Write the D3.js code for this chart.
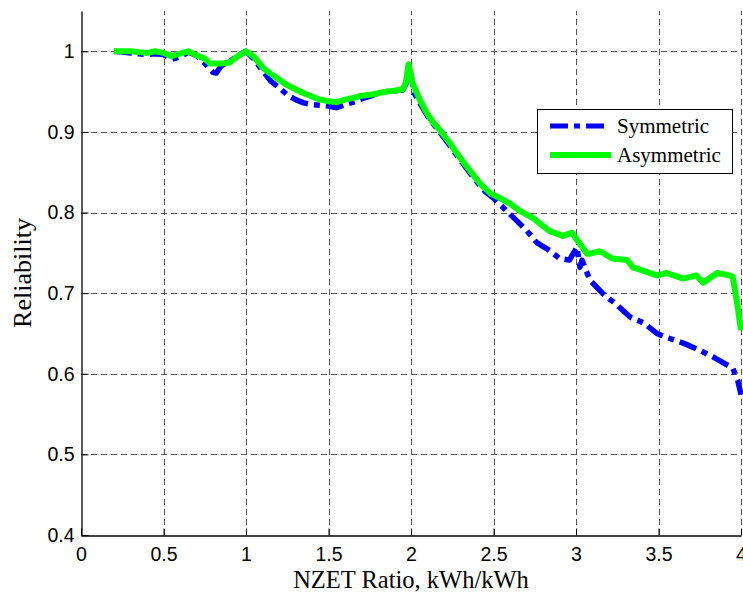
<!DOCTYPE html>
<html><head><meta charset="utf-8">
<script src="https://cdn.jsdelivr.net/npm/d3@7"></script>
<style>body{margin:0;background:#fff}svg{display:block}</style>
</head><body>
<svg id="chart" width="743" height="596"></svg>
<script>
const xTicks = [0, 0.5, 1, 1.5, 2, 2.5, 3, 3.5, 4];
const xTickLabels = ["0", "0.5", "1", "1.5", "2", "2.5", "3", "3.5", "4"];
const yTicks = [0.4, 0.5, 0.6, 0.7, 0.8, 0.9, 1];
const yTickLabels = ["0.4", "0.5", "0.6", "0.7", "0.8", "0.9", "1"];
const seriesNames = ["Symmetric", "Asymmetric"];

const symX = [0.20,0.25,0.30,0.35,0.40,0.45,0.50,0.55,0.60,0.65,0.70,0.75,0.80,0.82,0.85,0.90,0.95,1.00,1.05,1.10,1.15,1.20,1.25,1.30,1.35,1.40,1.45,1.50,1.55,1.60,1.65,1.70,1.75,1.80,1.85,1.90,1.95,1.97,1.985,2.00,2.02,2.05,2.10,2.15,2.20,2.25,2.30,2.35,2.40,2.45,2.50,2.55,2.62,2.70,2.76,2.84,2.90,2.96,3.006,3.024,3.036,3.085,3.16,3.25,3.33,3.41,3.49,3.55,3.65,3.75,3.83,3.915,3.95,3.98,4.00];
const symY = [1.000,0.999,0.998,0.997,0.996,0.997,0.996,0.990,0.993,0.999,0.995,0.985,0.974,0.973,0.982,0.987,0.995,1.000,0.990,0.976,0.963,0.955,0.946,0.940,0.936,0.934,0.933,0.932,0.930,0.934,0.937,0.941,0.944,0.948,0.950,0.951,0.952,0.960,0.982,0.970,0.948,0.937,0.920,0.906,0.893,0.879,0.865,0.851,0.838,0.826,0.818,0.808,0.794,0.778,0.763,0.753,0.743,0.741,0.757,0.732,0.741,0.716,0.700,0.685,0.670,0.663,0.650,0.645,0.638,0.629,0.621,0.611,0.607,0.592,0.574];

const asymX = [0.20,0.25,0.30,0.35,0.40,0.45,0.50,0.55,0.60,0.65,0.70,0.75,0.78,0.85,0.90,0.95,1.00,1.05,1.10,1.15,1.20,1.25,1.30,1.35,1.40,1.45,1.50,1.55,1.60,1.65,1.70,1.75,1.80,1.85,1.90,1.95,1.97,1.985,2.01,2.055,2.097,2.133,2.176,2.236,2.297,2.357,2.418,2.479,2.539,2.60,2.66,2.74,2.84,2.92,2.976,3.01,3.067,3.085,3.145,3.22,3.31,3.345,3.406,3.49,3.55,3.65,3.73,3.77,3.855,3.93,3.95,3.98,4.00];
const asymY = [1.000,1.000,1.000,0.999,0.998,1.000,0.998,0.994,0.997,1.000,0.995,0.991,0.985,0.985,0.986,0.994,1.000,0.993,0.980,0.972,0.965,0.958,0.953,0.948,0.944,0.940,0.938,0.937,0.940,0.942,0.945,0.946,0.948,0.950,0.951,0.953,0.962,0.984,0.960,0.939,0.923,0.912,0.902,0.886,0.868,0.852,0.836,0.824,0.818,0.811,0.802,0.793,0.777,0.771,0.775,0.765,0.749,0.749,0.752,0.743,0.741,0.732,0.728,0.722,0.725,0.718,0.722,0.713,0.725,0.722,0.720,0.683,0.654];

const svg = d3.select("#chart");
const L = 81, R = 741, T = 11, B = 535;
const x = d3.scaleLinear().domain([0, 4]).range([L, R]);
const y = d3.scaleLinear().domain([0.4, 1.05]).range([B, T]);

// grid
const grid = svg.append("g").attr("stroke", "#555").attr("stroke-width", 1).attr("stroke-dasharray", "6,4");
grid.selectAll(".vg").data(xTicks.slice(1)).join("line")
  .attr("x1", d => Math.round(x(d)) + 0.5).attr("x2", d => Math.round(x(d)) + 0.5)
  .attr("y1", B).attr("y2", T);
grid.selectAll(".hg").data(yTicks.slice(1)).join("line")
  .attr("y1", d => Math.round(y(d)) + 0.5).attr("y2", d => Math.round(y(d)) + 0.5)
  .attr("x1", L).attr("x2", R);

// axes
const xAxis = d3.axisBottom(x).tickValues(xTicks).tickFormat((d, i) => xTickLabels[i]).tickSizeInner(-7).tickSizeOuter(0).tickPadding(12);
const yAxis = d3.axisLeft(y).tickValues(yTicks).tickFormat((d, i) => yTickLabels[i]).tickSizeInner(-7).tickSizeOuter(0).tickPadding(7);
const gx = svg.append("g").attr("transform", `translate(0,${B + 0.5})`).call(xAxis);
const gy = svg.append("g").attr("transform", `translate(${L + 0.5},0)`).call(yAxis);
[gx, gy].forEach(g => {
  g.select(".domain").attr("stroke", "#000").attr("stroke-width", 1.3);
  g.selectAll(".tick line").attr("stroke", "#000");
  g.selectAll("text").attr("font-family", "Liberation Sans, Arial, sans-serif").attr("font-size", 19.5).attr("fill", "#000");
});

// lines
const line = d3.line().x(d => x(d[0])).y(d => y(d[1]));
const symData = symX.map((v, i) => [v, symY[i]]);
const asymData = asymX.map((v, i) => [v, asymY[i]]);
svg.append("path").datum(symData).attr("d", line).attr("fill", "none")
  .attr("stroke", "#0000ff").attr("stroke-width", 5.5).attr("stroke-dasharray", "18,6,6,6").attr("stroke-linejoin", "round");
svg.append("path").datum(asymData).attr("d", line).attr("fill", "none")
  .attr("stroke", "#00ff00").attr("stroke-width", 6).attr("stroke-linejoin", "round");

// labels
svg.append("text").attr("x", 411).attr("y", 588).attr("text-anchor", "middle")
  .attr("font-family", "Liberation Serif, Times New Roman, serif").attr("font-size", 24.5).text("NZET Ratio, kWh/kWh");
svg.append("text").attr("transform", `translate(31,${(T + B) / 2}) rotate(-90)`).attr("text-anchor", "middle")
  .attr("font-family", "Liberation Serif, Times New Roman, serif").attr("font-size", 26).text("Reliability");

// legend
const lg = svg.append("g");
lg.append("rect").attr("x", 537.5).attr("y", 109.5).attr("width", 195).attr("height", 64).attr("fill", "#fff").attr("stroke", "#000").attr("stroke-width", 1);
const legItems = [
  {name: seriesNames[0], color: "#0000ff", dash: "18,6,6,6", w: 5, yy: 126, x2: 605},
  {name: seriesNames[1], color: "#00ff00", dash: null, w: 6, yy: 155, x2: 611}
];
legItems.forEach(it => {
  lg.append("line").attr("x1", 550).attr("x2", it.x2).attr("y1", it.yy).attr("y2", it.yy)
    .attr("stroke", it.color).attr("stroke-width", it.w).attr("stroke-dasharray", it.dash);
  lg.append("text").attr("x", 617).attr("y", it.yy + 7).attr("font-family", "Liberation Serif, Times New Roman, serif")
    .attr("font-size", 21).text(it.name);
});
</script>
</body></html>
